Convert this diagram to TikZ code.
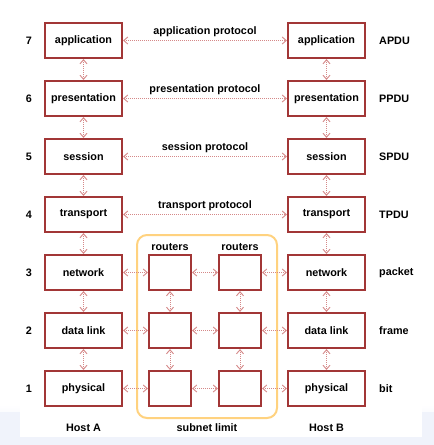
\documentclass[tikz,border=0pt]{standalone}
\usepackage{fontspec}
\setmainfont{Liberation Sans}
\usetikzlibrary{arrows.meta}
\definecolor{boxred}{HTML}{A23636}
\definecolor{arrred}{HTML}{D58888}
\definecolor{subnet}{HTML}{FFD27F}
\definecolor{lav}{HTML}{E6EAF9}
\begin{document}
\begin{tikzpicture}[x=1pt,y=-1pt,
  font=\fontsize{10.8}{12}\selectfont\bfseries,
  layer/.style={draw=boxred,line width=2.2pt,fill=white,minimum width=77pt,minimum height=35pt,inner sep=0pt},
  router/.style={draw=boxred,line width=2.2pt,fill=white,minimum width=42pt,minimum height=35pt,inner sep=0pt},
  link/.style={draw=arrred,line width=1pt,dash pattern=on 1pt off 1pt,{Straight Barb[length=4pt,width=7pt,line width=0.9pt]}-{Straight Barb[length=4pt,width=7pt,line width=0.9pt]}},
  lbl/.style={inner sep=0pt}]
\useasboundingbox (0,0) rectangle (434,445);
\shade[top color=white,bottom color=lav] (0,405) rectangle (434,445);
\fill[lav!60] (0,412) rectangle (434,445);
\fill[white] (20,14) rectangle (422,437);
% subnet
\draw[subnet,line width=2pt,rounded corners=10pt] (137,235) rectangle (277,418);
% layers
\foreach \n/\name/\k/\pdu in {7/application/a/APDU,6/presentation/p/PPDU,5/session/s/SPDU,4/transport/t/TPDU,3/network/n/packet,2/data link/d/frame,1/physical/ph/bit}{
  \pgfmathsetmacro{\yy}{40.5+58*(7-\n)}
  \node[layer] (L\n) at (83.5,\yy) {\name};
  \node[layer] (R\n) at (326.5,\yy) {\name};
  \node[lbl] (num\n) at (29,\yy) {\n};
  \node[lbl,anchor=west] (pdu\n) at (379,\yy) {\pdu};
}
% routers
\foreach \n in {3,2,1}{
  \pgfmathsetmacro{\yy}{40.5+58*(7-\n)}
  \node[router] (A\n) at (170,\yy) {};
  \node[router] (B\n) at (240,\yy) {};
  \draw[link] (L\n) -- (A\n);
  \draw[link] (A\n) -- (B\n);
  \draw[link] (B\n) -- (R\n);
}
\draw[link] (A3) -- (A2);
\draw[link] (A2) -- (A1);
\draw[link] (B3) -- (B2);
\draw[link] (B2) -- (B1);
% vertical host links
\foreach \a/\b in {7/6,6/5,5/4,4/3,3/2,2/1}{
  \draw[link] (L\a) -- (L\b);
  \draw[link] (R\a) -- (R\b);
}
% protocol links
\foreach \n/\t in {7/application protocol,6/presentation protocol,5/session protocol,4/transport protocol}{
  \draw[link] (L\n) -- node[lbl,above=3pt] (proto\n) {\t} (R\n);
}
\node[lbl] (rt1) at (170,247) {routers};
\node[lbl] (rt2) at (240,247) {routers};
\node[lbl] (sub) at (207,428) {subnet limit};
\node[lbl] (hA) at (83.5,428) {Host A};
\node[lbl] (hB) at (326.5,428) {Host B};
\end{tikzpicture}
\end{document}
